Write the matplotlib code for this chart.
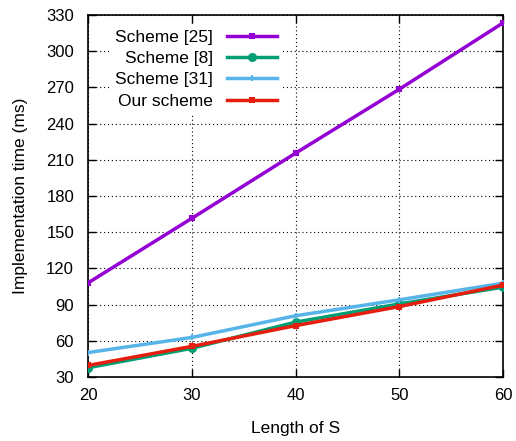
import matplotlib
matplotlib.use("Agg")
import matplotlib.pyplot as plt

plt.rcParams['font.family'] = ['Liberation Sans', 'DejaVu Sans']

x = [20, 30, 40, 50, 60]
scheme25 = [108, 161.5, 215.5, 268.5, 323.5]
scheme8 = [37.7, 53.8, 75.5, 90.6, 104.5]
scheme31 = [50.3, 62.8, 80.8, 94, 107.8]
ours = [39.6, 55.4, 72.6, 88.4, 106.2]
labels = ["Scheme [25]", "Scheme [8]", "Scheme [31]", "Our scheme"]
colors = ["#9400d3", "#009e73", "#56b4e9", "#e51e10"]
markers = ["s", "o", "+", "s"]
msizes = [3, 5, 4, 3.2]

fig = plt.figure(figsize=(5.16, 4.41), dpi=100)
ax = fig.add_axes([0.1705, 0.145, 0.8045, 0.821])

for y, lab, c, m, ms in zip([scheme25, scheme8, scheme31, ours], labels, colors, markers, msizes):
    ax.plot(x, y, color=c, lw=2.5, marker=m, ms=ms, mew=1.5, label=lab, zorder=3)

ax.set_xlim(20, 60)
ax.set_ylim(30, 330)
ax.set_xticks([20, 30, 40, 50, 60])
ax.set_yticks(list(range(30, 331, 30)))
ax.tick_params(direction='in', length=6, width=1, labelsize=12, top=True, right=True)
ax.tick_params(axis='y', pad=10)
ax.tick_params(axis='x', pad=8)
ax.grid(True, color='black', linestyle=(0, (1, 2.5)), linewidth=0.8)
for s in ax.spines.values():
    s.set_linewidth(1.2)
ax.set_xlabel("Length of S", fontsize=12.5, labelpad=13)
ax.set_ylabel("Implementation time (ms)", fontsize=12.5, labelpad=13)

leg = ax.legend(loc='upper left', bbox_to_anchor=(0.045, 0.984), markerfirst=False, frameon=True,
                fontsize=12.5, handlelength=2.9, labelspacing=0.36, borderaxespad=0.2,
                fancybox=False, handletextpad=0.8, borderpad=0.3)
leg.get_frame().set_edgecolor('none')
leg.get_frame().set_facecolor('white')
leg.get_frame().set_alpha(1)
for t in leg.get_texts():
    t.set_ha('right')
leg.set_zorder(5)

fig.savefig("out.png", dpi=100)
